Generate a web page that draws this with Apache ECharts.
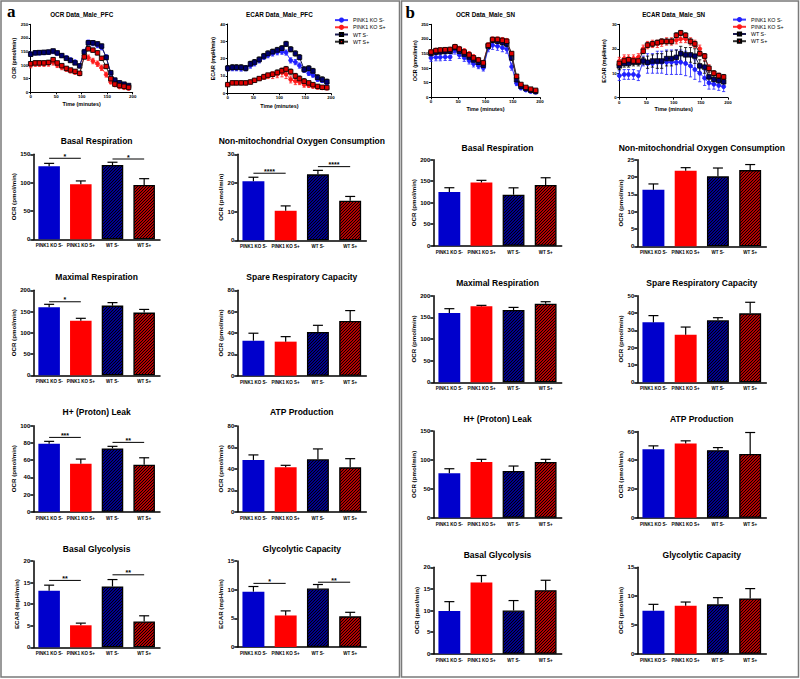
<!DOCTYPE html>
<html><head><meta charset="utf-8">
<script src="https://cdn.jsdelivr.net/npm/echarts@6/dist/echarts.min.js"></script>
<style>html,body{margin:0;padding:0;background:#fff}#c{width:800px;height:679px}</style>
</head><body><div id="c"></div>
<script>
// ---------- DATA ----------
const GROUPS = ['PINK1 KO S-', 'PINK1 KO S+', 'WT S-', 'WT S+'];
const TIME = [0, 9, 17, 26, 35, 44, 52, 61, 70, 78, 87, 96, 105, 113, 122, 131, 139, 148, 157, 165, 174, 183, 192];

// OCR PFC
const ocrPfcKoSm = [140,145,145,146,147,150, 143,135,127,120,112,97, 150,183,180,173,165,130, 70,45,35,28,23];
const ocrPfcKoSp = [100,105,105,105,106,110, 100,92,85,79,74,68, 135,127,115,105,90,65, 38,27,20,17,14];
const ocrPfcWtSm = [140,145,146,147,148,152, 145,135,125,117,108,97, 148,182,182,178,170,128, 72,45,35,30,25];
const ocrPfcWtSp = [105,108,108,108,110,120, 108,98,88,82,77,70, 130,160,155,145,125,95, 50,30,25,22,18];
const ocrPfcKoSmErr = [8,8,8,8,8,8, 7,7,7,6,6,6, 8,9,9,9,9,8, 6,5,4,4,4];
const ocrPfcKoSpErr = [10,10,10,10,10,10, 9,9,8,8,8,7, 10,10,10,10,10,9, 7,5,4,4,4];
const ocrPfcWtSmErr = [6,6,6,6,6,6, 6,6,5,5,5,5, 7,7,7,7,7,7, 5,4,4,3,3];
const ocrPfcWtSpErr = [7,7,7,7,7,7, 6,6,6,5,5,5, 7,7,7,7,7,7, 5,4,3,3,3];

// ECAR PFC
const ecarPfcKoSm = [14.4,14.5,14.5,14.3,14.5,16, 17.3,19,21,22,23,23.7, 24,23.5,19,18,16,13.5, 11.5,10.5,8,7.3,6];
const ecarPfcKoSp = [5,6,6,6,6,6.5, 7.5,8.5,9.5,10,10.5,11, 12,11,8,7,6.5,5, 4.5,4,3.5,3.2,3];
const ecarPfcWtSm = [14.5,15,15,15,14.5,17, 18,19.5,21.5,23,24,25, 26,28.5,25.4,23,20.8,13.8, 14.4,12.9,9.2,8,6.7];
const ecarPfcWtSp = [5,6,6,6,6,6.5, 7.5,8.5,9.5,10.5,11,12, 13,14,12.5,10,8.5,7, 6,5,4,3.5,3.3];
const ecarPfcKoSmErr = [1.5,1.5,1.5,1.5,1.5,1.5, 1.5,1.5,1.5,1.5,1.5,1.5, 1.5,1.5,1.5,1.5,1.5,1.5, 1.2,1.2,1,1,1];
const ecarPfcKoSpErr = [1,1,1,1,1,1, 1,1,1.5,1.5,2,2, 2.5,2.5,2,2,1.5,1.5, 1,1,1,1,1];
const ecarPfcWtSmErr = [1.5,1.5,1.5,1.5,1.5,1.5, 1.5,1.5,1.5,1.5,1.5,1.5, 1.5,1.5,1.5,1.5,1.5,1.5, 1.5,1.5,1.5,1.5,1.5];
const ecarPfcWtSpErr = [1,1,1,1,1,1, 1,1,1,1,1,1.5, 1.5,1.5,1.5,1.5,1.5,1.5, 1,1,1,1,1];

// OCR SN
const ocrSnKoSm = [135,137,137,138,138,160, 145,135,125,115,108,100, 168,178,175,170,165,105, 48,32,25,20,17];
const ocrSnKoSp = [157,162,163,164,165,175, 168,160,150,140,130,120, 180,200,200,198,195,145, 68,42,32,26,22];
const ocrSnWtSm = [150,155,156,157,158,170, 158,148,138,128,120,110, 175,195,192,188,183,135, 60,38,30,24,20];
const ocrSnWtSp = [155,160,162,163,164,173, 165,155,145,135,128,118, 178,198,198,195,192,150, 72,44,34,28,24];
const ocrSnKoSmErr = [12,12,12,12,12,12, 12,12,11,11,10,10, 12,14,14,14,14,12, 8,6,5,4,4];
const ocrSnKoSpErr = [5,5,5,5,5,5, 5,5,5,5,5,5, 6,6,6,6,6,6, 5,4,3,3,3];
const ocrSnWtSmErr = [8,8,8,8,8,8, 8,8,8,8,8,8, 9,9,9,9,9,9, 6,5,4,3,3];
const ocrSnWtSpErr = [5,5,5,5,5,5, 5,5,5,5,5,5, 6,6,6,6,6,6, 5,4,3,3,3];

// ECAR SN
const ecarSnKoSm = [9,9.5,9.5,9.5,9,15, 14,14,14.5,14.5,14.5,14.5, 14.5,14.5,14,13,11.5,10, 8,6,5.5,5,4.5];
const ecarSnKoSp = [15,16,16,16,16.5,20, 21.5,22,22,22.5,23,23, 23.5,24,24,23,22,20, 16.5,12,10,9,8];
const ecarSnWtSm = [13,14,14,14.5,14.5,15, 14.5,15,15,15,16,16, 16.5,18,17.5,17.5,17,13, 12.5,8.5,7.5,7,6.5];
const ecarSnWtSp = [14,15,15.5,15,15,19, 21.5,22,22.5,23,23,23, 25.5,26.5,25.5,23,22,18, 17,12,10,9,8.5];
const ecarSnKoSmErr = [2,2,2,2,2,2, 4,4,4.5,4.5,5,5, 5,5,5,4.5,4,3.5, 3,2.5,2,2,2];
const ecarSnKoSpErr = [1.5,1.5,1.5,1.5,1.5,1.5, 1.5,1.5,1.5,1.5,1.5,1.5, 1.5,1.5,1.5,1.5,1.5,1.5, 1.5,1.5,1,1,1];
const ecarSnWtSmErr = [1.5,1.5,1.5,1.5,1.5,1.5, 2.5,2.5,3,3,3,3, 3,3,3,3,3,2.5, 2.5,2,1.5,1.5,1.5];
const ecarSnWtSpErr = [1,1,1,1,1,1, 1,1,1,1,1,1, 1,1,1,1,1,1, 1,1,1,1,1];

// Bar panels (a = PFC, b = SN): values, SEM, significance [from, to, y, label]
const aBasalResp = [129,97,131,96],   aBasalRespErr = [5,6,5,11],   aBasalRespSig = [[0,1,143,'*'],[2,3,141.7,'*']];
const aNonMito = [20.6,10.3,23,13.8], aNonMitoErr = [1.4,1.7,1.4,1.5], aNonMitoSig = [[0,1,23.4,'****'],[2,3,25.7,'****']];
const aMaxResp = [160,128.6,164,147.5], aMaxRespErr = [7,5.5,7,7.5], aMaxRespSig = [[0,1,173,'*']];
const aSpare = [32.8,31.9,41,51.3],   aSpareErr = [7,4.7,6.2,9.7];
const aLeak = [79,55.8,73.6,54.7],    aLeakErr = [2.8,5.4,2.4,8],  aLeakSig = [[0,1,86.4,'***'],[2,3,80.6,'**']];
const aATP = [48.3,41.4,48.9,41.4],   aATPErr = [4.7,1.9,9.7,8.1];
const aGlyco = [13.1,5.1,14.1,6.0],   aGlycoErr = [1.3,0.5,1.6,1.3], aGlycoSig = [[0,1,15.5,'**'],[2,3,16.8,'**']];
const aGlycoCap = [9.65,5.5,10.2,5.35], aGlycoCapErr = [0.9,0.8,0.7,0.7], aGlycoCapSig = [[0,1,11.1,'*'],[2,3,11.3,'**']];

const bBasalResp = [124.8,147,118.6,141], bBasalRespErr = [10,5,16,17];
const bNonMito = [16.3,21.8,20.2,22],   bNonMitoErr = [1.7,0.9,2.4,1.6];
const bMaxResp = [160,175.4,167,181.5], bMaxRespErr = [10,2.3,6,4.6];
const bSpare = [34.6,27.5,35.8,39.8],   bSpareErr = [3.9,4.4,1.5,6.4];
const bLeak = [76.7,96.4,80.8,96.4],    bLeakErr = [8,4.6,8.6,4.6];
const bATP = [47.7,51.6,47,44.4],       bATPErr = [2.3,1.9,1.8,14.9];
const bGlyco = [9.9,16.5,10.0,14.7],    bGlycoErr = [2.15,1.6,2.3,2.3];
const bGlycoCap = [7.47,8.34,8.57,9.6], bGlycoCapErr = [1.1,0.63,1.16,1.7];

// ---------- BUILD ----------
const FONT = '"Liberation Sans", Arial, sans-serif';
const BLUE = '#0000cc', RED = '#ff0000';
const grid = [], xAxis = [], yAxis = [], series = [], title = [];

const LINE_STYLE = [
  {fill:'#2020ff', border:'#2020ff', line:'#3a3aff', symbol:'circle', size:4},
  {fill:'#ff1a1a', border:'#ff1a1a', line:'#ff3030', symbol:'circle', size:4},
  {fill:'#000070', border:'#000000', line:'#1c1c50', symbol:'rect', size:4.5},
  {fill:'#e00000', border:'#000000', line:'#303030', symbol:'rect', size:4.5}
];

function lineErr(color) {
  return function (params, api) {
    const x = api.value(0), v = api.value(1), e = api.value(2);
    const p1 = api.coord([x, v + e]), p0 = api.coord([x, v - e]);
    const w = 1.6;
    const st = {stroke: color, lineWidth: 0.8};
    return {type:'group', children:[
      {type:'line', shape:{x1:p1[0], y1:p1[1], x2:p0[0], y2:p0[1]}, style:st},
      {type:'line', shape:{x1:p1[0]-w, y1:p1[1], x2:p1[0]+w, y2:p1[1]}, style:st},
      {type:'line', shape:{x1:p0[0]-w, y1:p0[1], x2:p0[0]+w, y2:p0[1]}, style:st}
    ]};
  };
}

function addLineChart(cfg) {
  const gi = grid.length;
  grid.push({left:cfg.left, top:cfg.top, width:cfg.width, height:cfg.height});
  xAxis.push({type:'value', gridIndex:gi, min:0, max:200, interval:50,
    name:'Time (minutes)', nameLocation:'middle', nameGap:cfg.xGap,
    nameTextStyle:{fontFamily:FONT, fontWeight:'bold', fontSize:5.4, color:'#000'},
    axisLine:{lineStyle:{color:'#000', width:1}}, axisTick:{length:2, lineStyle:{color:'#000', width:1}},
    axisLabel:{fontFamily:FONT, fontSize:4.4, fontWeight:'bold', color:'#000', margin:2.5},
    splitLine:{show:false}});
  yAxis.push({type:'value', gridIndex:gi, min:0, max:cfg.ymax, interval:cfg.yint,
    name:cfg.yname, nameLocation:'middle', nameGap:cfg.yGap,
    nameTextStyle:{fontFamily:FONT, fontWeight:'bold', fontSize:5.4, color:'#000'},
    axisLine:{show:true, lineStyle:{color:'#000', width:1}}, axisTick:{show:true, length:2, lineStyle:{color:'#000', width:1}},
    axisLabel:{fontFamily:FONT, fontSize:4.4, fontWeight:'bold', color:'#000', margin:2.5},
    splitLine:{show:false}});
  title.push({text:cfg.title, left:cfg.left + cfg.width/2, top:cfg.titleY, textAlign:'center', textVerticalAlign:'middle', padding:0,
    textStyle:{fontFamily:FONT, fontSize:6.3, fontWeight:'bold', color:'#000'}});
  cfg.series.forEach((s, k) => {
    const st = LINE_STYLE[k];
    series.push({type:'line', name:GROUPS[k], xAxisIndex:gi, yAxisIndex:gi,
      data: TIME.map((t, i) => [t, s[0][i]]),
      symbol:st.symbol, symbolSize:st.size, showSymbol:true,
      itemStyle:{color:st.fill, borderColor:st.border, borderWidth:0.8},
      lineStyle:{color:st.line, width:1}, z:3 + k*0.01, animation:false});
    series.push({type:'custom', xAxisIndex:gi, yAxisIndex:gi,
      data: TIME.map((t, i) => [t, s[0][i], s[1][i]]),
      renderItem: lineErr(st.border === '#000000' ? '#000' : st.fill), z:2, silent:true, animation:false});
  });
}

// Hatch fill: "/" diagonal black stripes over the bar colour
function hatch(bg) {
  const T = 3;
  const c = document.createElement('canvas');
  c.width = T; c.height = T;
  const g = c.getContext('2d');
  g.fillStyle = bg; g.fillRect(0, 0, T, T);
  g.strokeStyle = '#000'; g.lineWidth = 1.15;
  g.beginPath();
  g.moveTo(-1, T + 1); g.lineTo(T + 1, -1);
  g.moveTo(-1, 1); g.lineTo(1, -1);
  g.moveTo(T - 1, T + 1); g.lineTo(T + 1, T - 1);
  g.stroke();
  return {image: c, repeat: 'repeat'};
}
const BAR_STYLE = [
  {color:BLUE},
  {color:RED},
  {color:hatch(BLUE), borderColor:'#000', borderWidth:1.3},
  {color:hatch(RED), borderColor:'#000', borderWidth:1.3}
];

function barErr(errs) {
  return function (params, api) {
    const k = params.dataIndex;
    const v = api.value(1), e = errs[k];
    const p0 = api.coord([k, v]), p1 = api.coord([k, v + e]);
    const w = 5;
    const st = {stroke:'#000', lineWidth:1.2};
    return {type:'group', children:[
      {type:'line', shape:{x1:p0[0], y1:p0[1], x2:p1[0], y2:p1[1]}, style:st},
      {type:'line', shape:{x1:p1[0]-w, y1:p1[1], x2:p1[0]+w, y2:p1[1]}, style:st}
    ]};
  };
}
function sigRender(sig) {
  return function (params, api) {
    const s = sig[params.dataIndex];
    const a = api.coord([s[0], s[2]]), b = api.coord([s[1], s[2]]);
    return {type:'group', children:[
      {type:'line', shape:{x1:a[0], y1:a[1], x2:b[0], y2:b[1]}, style:{stroke:'#000', lineWidth:1}},
      {type:'text', style:{text:s[3], x:(a[0]+b[0])/2, y:a[1]+1.5, align:'center', textAlign:'center',
        verticalAlign:'bottom', textVerticalAlign:'bottom', font:'bold 7px ' + FONT, fill:'#000'}}
    ]};
  };
}

function addBar(cfg) {
  const gi = grid.length;
  grid.push({left:cfg.left, top:cfg.top, width:cfg.width, height:cfg.bottom - cfg.top});
  xAxis.push({type:'category', gridIndex:gi, data:GROUPS,
    axisLine:{lineStyle:{color:'#000', width:1.5}}, axisTick:{show:false},
    axisLabel:{interval:0, fontFamily:FONT, fontSize:4.5, fontWeight:'bold', color:'#000', margin:4}});
  yAxis.push({type:'value', gridIndex:gi, min:0, max:cfg.ymax, interval:cfg.yint,
    name:cfg.yname, nameLocation:'middle', nameGap:13.5,
    nameTextStyle:{fontFamily:FONT, fontWeight:'bold', fontSize:6.2, color:'#000'},
    axisLine:{show:true, lineStyle:{color:'#000', width:1.5}},
    axisTick:{show:true, length:3, lineStyle:{color:'#000', width:1.5}},
    axisLabel:{fontFamily:FONT, fontSize:6, fontWeight:'bold', color:'#000', margin:3},
    splitLine:{show:false}});
  title.push({text:cfg.title, left:cfg.left + cfg.width/2, top:cfg.titleY, textAlign:'center', textVerticalAlign:'middle', padding:0,
    textStyle:{fontFamily:FONT, fontSize:8.5, fontWeight:'bold', color:'#000'}});
  series.push({type:'bar', xAxisIndex:gi, yAxisIndex:gi, barWidth:'68%',
    data: cfg.vals.map((v, k) => ({value:v, itemStyle:BAR_STYLE[k]})), z:2, animation:false});
  series.push({type:'custom', xAxisIndex:gi, yAxisIndex:gi,
    data: cfg.vals.map((v, k) => [k, v]), renderItem: barErr(cfg.errs), z:3, silent:true, animation:false});
  if (cfg.sig) {
    series.push({type:'custom', xAxisIndex:gi, yAxisIndex:gi,
      data: cfg.sig.map(s => [s[0], s[2]]), renderItem: sigRender(cfg.sig), z:4, silent:true, animation:false});
  }
}

// Line charts
addLineChart({left:30.7, top:24.3, width:102, height:68, ymax:250, yint:50, yname:'OCR (pmol/min)', title:'OCR Data_Male_PFC', titleY:14, xGap:9.5, yGap:14.5,
  series:[[ocrPfcKoSm,ocrPfcKoSmErr],[ocrPfcKoSp,ocrPfcKoSpErr],[ocrPfcWtSm,ocrPfcWtSmErr],[ocrPfcWtSp,ocrPfcWtSpErr]]});
addLineChart({left:227.7, top:24, width:103.3, height:69.3, ymax:40, yint:10, yname:'ECAR (mpH/min)', title:'ECAR Data_Male_PFC', titleY:14, xGap:10.5, yGap:12,
  series:[[ecarPfcKoSm,ecarPfcKoSmErr],[ecarPfcKoSp,ecarPfcKoSpErr],[ecarPfcWtSm,ecarPfcWtSmErr],[ecarPfcWtSp,ecarPfcWtSpErr]]});
addLineChart({left:431, top:24.3, width:109, height:73, ymax:250, yint:50, yname:'OCR (pmol/min)', title:'OCR Data_Male_SN', titleY:14.3, xGap:9, yGap:12.5,
  series:[[ocrSnKoSm,ocrSnKoSmErr],[ocrSnKoSp,ocrSnKoSpErr],[ocrSnWtSm,ocrSnWtSmErr],[ocrSnWtSp,ocrSnWtSpErr]]});
addLineChart({left:619.3, top:24.3, width:108.7, height:73.4, ymax:30, yint:10, yname:'ECAR (mpH/min)', title:'ECAR Data_Male_SN', titleY:14.3, xGap:9, yGap:12.5,
  series:[[ecarSnKoSm,ecarSnKoSmErr],[ecarSnKoSp,ecarSnKoSpErr],[ecarSnWtSm,ecarSnWtSmErr],[ecarSnWtSp,ecarSnWtSpErr]]});

// Bar charts, panel a
const OCR = 'OCR (pmol/min)', ECAR = 'ECAR (mpH/min)';
addBar({left:33.3, width:126.7, top:154.3, bottom:239.3, titleY:140.7, title:'Basal Respiration', ymax:150, yint:50, yname:OCR, vals:aBasalResp, errs:aBasalRespErr, sig:aBasalRespSig});
addBar({left:237.3, width:129, top:154.3, bottom:240.3, titleY:140.7, title:'Non-mitochondrial Oxygen Consumption', ymax:30, yint:10, yname:OCR, vals:aNonMito, errs:aNonMitoErr, sig:aNonMitoSig});
addBar({left:33.3, width:126.7, top:290.3, bottom:375.3, titleY:276.7, title:'Maximal Respiration', ymax:200, yint:50, yname:OCR, vals:aMaxResp, errs:aMaxRespErr, sig:aMaxRespSig});
addBar({left:237.3, width:129, top:290.3, bottom:375.7, titleY:276.7, title:'Spare Respiratory Capacity', ymax:80, yint:20, yname:OCR, vals:aSpare, errs:aSpareErr});
addBar({left:33.3, width:126.7, top:425.7, bottom:511.7, titleY:412.3, title:'H+ (Proton) Leak', ymax:100, yint:20, yname:OCR, vals:aLeak, errs:aLeakErr, sig:aLeakSig});
addBar({left:237.3, width:129, top:426, bottom:511.7, titleY:412.3, title:'ATP Production', ymax:80, yint:20, yname:OCR, vals:aATP, errs:aATPErr});
addBar({left:33.3, width:126.7, top:561, bottom:647.3, titleY:548.7, title:'Basal Glycolysis', ymax:20, yint:5, yname:ECAR, vals:aGlyco, errs:aGlycoErr, sig:aGlycoSig});
addBar({left:237.3, width:129, top:561, bottom:647, titleY:548.7, title:'Glycolytic Capacity', ymax:15, yint:5, yname:ECAR, vals:aGlycoCap, errs:aGlycoCapErr, sig:aGlycoCapSig});

// Bar charts, panel b
addBar({left:433.3, width:128.4, top:159.7, bottom:245.7, titleY:147.7, title:'Basal Respiration', ymax:200, yint:50, yname:OCR, vals:bBasalResp, errs:bBasalRespErr});
addBar({left:637.3, width:129, top:159.7, bottom:246.3, titleY:147.7, title:'Non-mitochondrial Oxygen Consumption', ymax:25, yint:5, yname:OCR, vals:bNonMito, errs:bNonMitoErr});
addBar({left:433.3, width:128.4, top:295.7, bottom:382.3, titleY:283.3, title:'Maximal Respiration', ymax:200, yint:50, yname:OCR, vals:bMaxResp, errs:bMaxRespErr});
addBar({left:637.3, width:129, top:295.7, bottom:382.3, titleY:283.3, title:'Spare Respiratory Capacity', ymax:50, yint:10, yname:OCR, vals:bSpare, errs:bSpareErr});
addBar({left:433.3, width:128.4, top:431, bottom:517.7, titleY:419, title:'H+ (Proton) Leak', ymax:150, yint:50, yname:OCR, vals:bLeak, errs:bLeakErr});
addBar({left:637.3, width:129, top:431.5, bottom:517.7, titleY:419, title:'ATP Production', ymax:60, yint:20, yname:OCR, vals:bATP, errs:bATPErr});
addBar({left:433.3, width:128.4, top:567.3, bottom:653.7, titleY:555, title:'Basal Glycolysis', ymax:20, yint:5, yname:OCR, vals:bGlyco, errs:bGlycoErr});
addBar({left:637.3, width:129, top:567.3, bottom:653.7, titleY:555, title:'Glycolytic Capacity', ymax:15, yint:5, yname:OCR, vals:bGlycoCap, errs:bGlycoCapErr});

const legendBase = {orient:'vertical', itemGap:2, itemWidth:13, itemHeight:4, padding:0, data:GROUPS, selectedMode:false,
  textStyle:{fontFamily:FONT, fontSize:5.3, color:'#000'}};

const chart = echarts.init(document.getElementById('c'), null, {renderer:'svg'});
chart.setOption({
  animation:false,
  backgroundColor:'#fff',
  title, grid, xAxis, yAxis, series,
  legend:[Object.assign({left:334, top:17.5}, legendBase), Object.assign({left:732, top:17}, legendBase)],
  graphic:[
    {type:'rect', shape:{x:1, y:1, width:398.5, height:676}, style:{fill:'none', stroke:'#7a7a7a', lineWidth:1.5}, silent:true},
    {type:'rect', shape:{x:401.5, y:1, width:397, height:676}, style:{fill:'none', stroke:'#7a7a7a', lineWidth:1.5}, silent:true},
    {type:'text', x:7, y:19.5, style:{text:'a', font:'bold 17px "Liberation Serif", serif', fill:'#000', verticalAlign:'bottom', textVerticalAlign:'bottom'}, silent:true},
    {type:'text', x:405.5, y:21, style:{text:'b', font:'bold 17px "Liberation Serif", serif', fill:'#000', verticalAlign:'bottom', textVerticalAlign:'bottom'}, silent:true}
  ]
});
</script></body></html>
